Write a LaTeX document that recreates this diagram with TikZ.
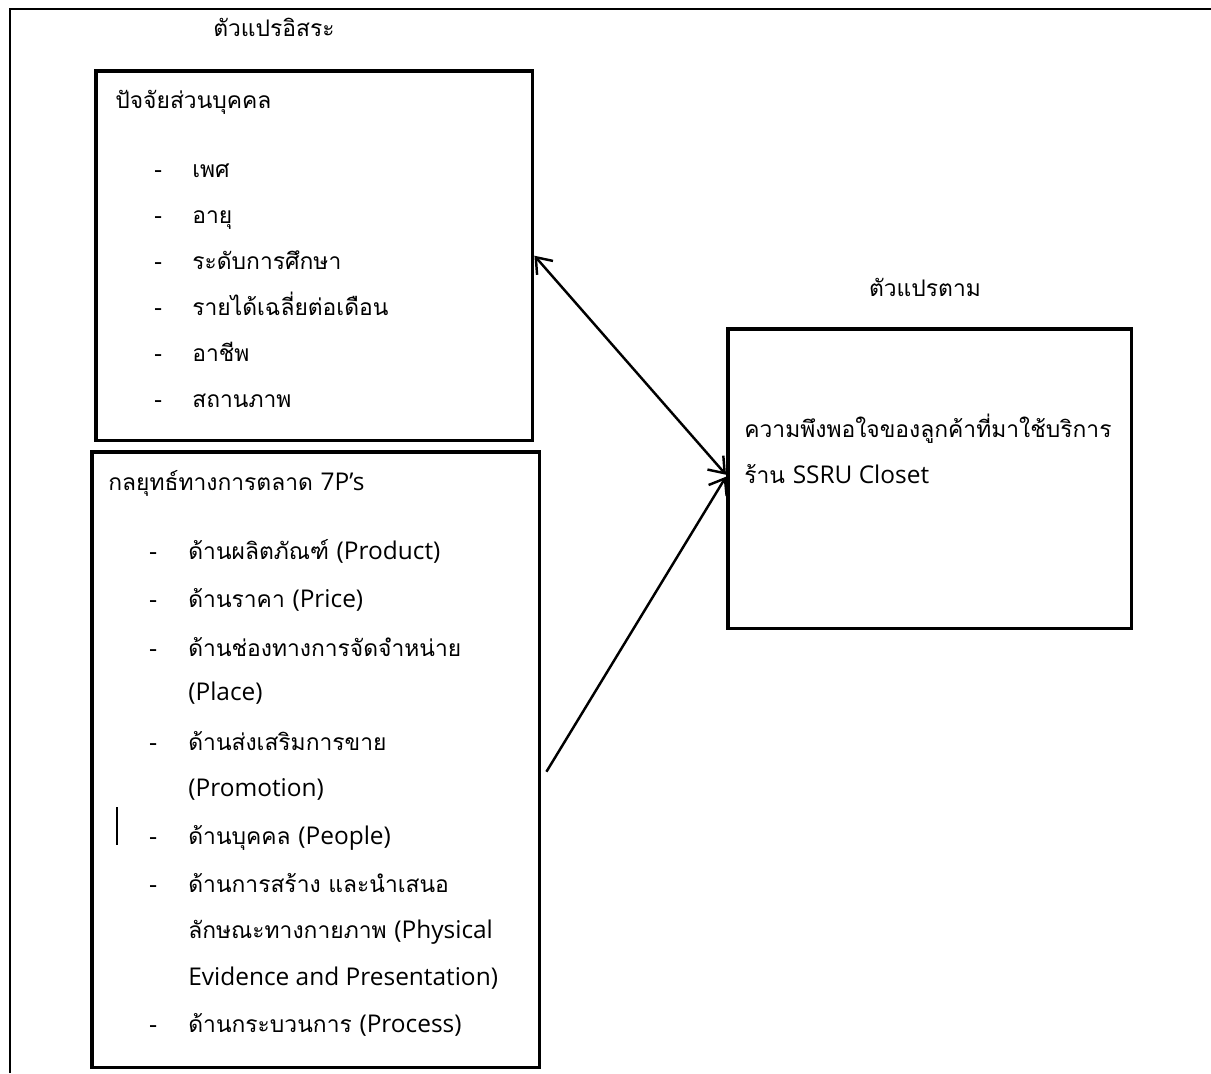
\documentclass[tikz,border=0pt]{standalone}
\usepackage{fontspec}
\newfontfamily\thaifont[Script=Thai]{Loma}
\newfontfamily\latfont[Scale=1.07]{Open Sans}
\newcommand\lat[1]{{\latfont #1}}
\usetikzlibrary{positioning,arrows.meta,calc}

\begin{document}
\begin{tikzpicture}[x=0.02cm,y=-0.02cm,
  box/.style={draw,line width=2pt,inner sep=0,anchor=north west},
  txt/.style={anchor=base west,inner sep=0,font=\thaifont\fontsize{13}{16}\selectfont},
  link/.style={line width=1.4pt},
  tip/.tip={Straight Barb[length=8pt,width=12pt,line width=1.4pt]}]
\useasboundingbox (0,0) rectangle (1211,1073);
\draw[line width=1.2pt] (10,1073) -- (10,9) -- (1211,9);

% boxes
\node[box,minimum width=8.74cm,minimum height=7.4cm] (pers) at (94,69) {};
\node[box,minimum width=8.96cm,minimum height=12.32cm] (mix) at (90,450) {};
\node[box,minimum width=8.08cm,minimum height=6cm] (dep) at (726,327) {};

% headings
\node[txt,anchor=base] (indep) at (274,36) {ตัวแปรอิสระ};
\node[txt,anchor=base] (deplbl) at (925,296) {ตัวแปรตาม};

% personal factors
\node[txt] (ph) at (115,108) {ปัจจัยส่วนบุคคล};
\node[txt] (pd1) at (154,177) {-};
\node[txt] (p1) at (192,177) {เพศ};
\node[txt] (pd2) at (154,223) {-};
\node[txt] (p2) at (192,223) {อายุ};
\node[txt] (pd3) at (154,269) {-};
\node[txt] (p3) at (192,269) {ระดับการศึกษา};
\node[txt] (pd4) at (154,315) {-};
\node[txt] (p4) at (192,315) {รายได้เฉลี่ยต่อเดือน};
\node[txt] (pd5) at (154,361) {-};
\node[txt] (p5) at (192,361) {อาชีพ};
\node[txt] (pd6) at (154,407) {-};
\node[txt] (p6) at (192,407) {สถานภาพ};

% marketing mix
\node[txt] (mh) at (108,490) {กลยุทธ์ทางการตลาด \lat{7P’s}};
\node[txt] (md1) at (149,559) {-};
\node[txt] (m1) at (188,559) {ด้านผลิตภัณฑ์ \lat{(Product)}};
\node[txt] (md2) at (149,607) {-};
\node[txt] (m2) at (188,607) {ด้านราคา \lat{(Price)}};
\node[txt] (md3) at (149,656) {-};
\node[txt] (m3) at (188,656) {ด้านช่องทางการจัดจำหน่าย};
\node[txt] (m3b) at (188,700) {\lat{(Place)}};
\node[txt] (md4) at (149,750) {-};
\node[txt] (m4) at (188,750) {ด้านส่งเสริมการขาย};
\node[txt] (m4b) at (188,796) {\lat{(Promotion)}};
\node[txt] (md5) at (149,844) {-};
\node[txt] (m5) at (188,844) {ด้านบุคคล \lat{(People)}};
\node[txt] (md6) at (149,892) {-};
\node[txt] (m6) at (188,892) {ด้านการสร้าง และนำเสนอ};
\node[txt] (m6b) at (188,938) {ลักษณะทางกายภาพ \lat{(Physical}};
\node[txt] (m6c) at (188,985) {\lat{Evidence and Presentation)}};
\node[txt] (md7) at (149,1032) {-};
\node[txt] (m7) at (188,1032) {ด้านกระบวนการ \lat{(Process)}};
\draw[line width=0.8pt] (117,807) -- (117,845);

% dependent variable
\node[txt] (d1) at (744,437) {ความพึงพอใจของลูกค้าที่มาใช้บริการ};
\node[txt] (d2) at (744,483) {ร้าน \lat{SSRU Closet}};

% arrows
\coordinate (s2) at ($(mix.east)+(5,12)$);
\draw[link,tip-tip] (pers.east) -- ($(dep.west)+(0,-4)$);
\draw[link,-tip] (s2) -- ($(dep.west)+(0,-2)$);
\end{tikzpicture}
\end{document}
